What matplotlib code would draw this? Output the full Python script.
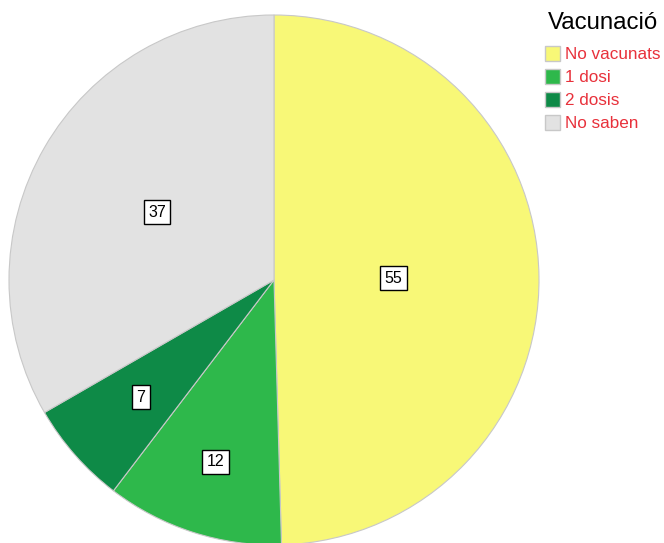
import matplotlib.pyplot as plt
from matplotlib.patches import Patch
import numpy as np

plt.rcParams['font.family'] = ['Liberation Sans', 'DejaVu Sans']

# dades
categories = ['No vacunats', '1 dosi', '2 dosis', 'No saben']
values = [55, 12, 7, 37]
colors = ['#F8F877', '#2EB84B', '#0E8A47', '#E2E2E2']
label_r = [0.45, 0.72, 0.67, 0.51]  # distancia de les etiquetes

W, H = 664, 543
fig = plt.figure(figsize=(W / 100, H / 100), dpi=100)
cx, cy, R = 274, 280, 265
ax = fig.add_axes([(cx - R) / W, (H - cy - R) / H, 2 * R / W, 2 * R / H])

wedges, _ = ax.pie(values, colors=colors, startangle=90, counterclock=False, radius=1,
                   wedgeprops=dict(edgecolor='#C8C8C8', linewidth=0.8))
ax.set_xlim(-1, 1)
ax.set_ylim(-1, 1)
ax.set_aspect('equal')
ax.axis('off')

total = sum(values)
ang = 90.0
for v, r in zip(values, label_r):
    span = v / total * 360
    mid = np.deg2rad(ang - span / 2)
    ax.text(r * np.cos(mid), r * np.sin(mid), str(v), ha='center', va='center', fontsize=11.5,
            bbox=dict(boxstyle='square,pad=0.28', facecolor='white', edgecolor='black', linewidth=1))
    ang -= span

handles = [Patch(facecolor=c, edgecolor='#C8C8C8') for c in colors]
leg = fig.legend(handles, categories, title='Vacunació', loc='upper left',
                 bbox_to_anchor=(533 / W, 1.0), frameon=False, fontsize=12.3,
                 title_fontsize=17.3, handlelength=0.9, handleheight=0.9,
                 handletextpad=0.25, labelspacing=0.41, borderpad=0.2)
leg._legend_box.sep = 9
for t in leg.get_texts():
    t.set_color('#E8313B')

fig.savefig('out.png', dpi=100)
